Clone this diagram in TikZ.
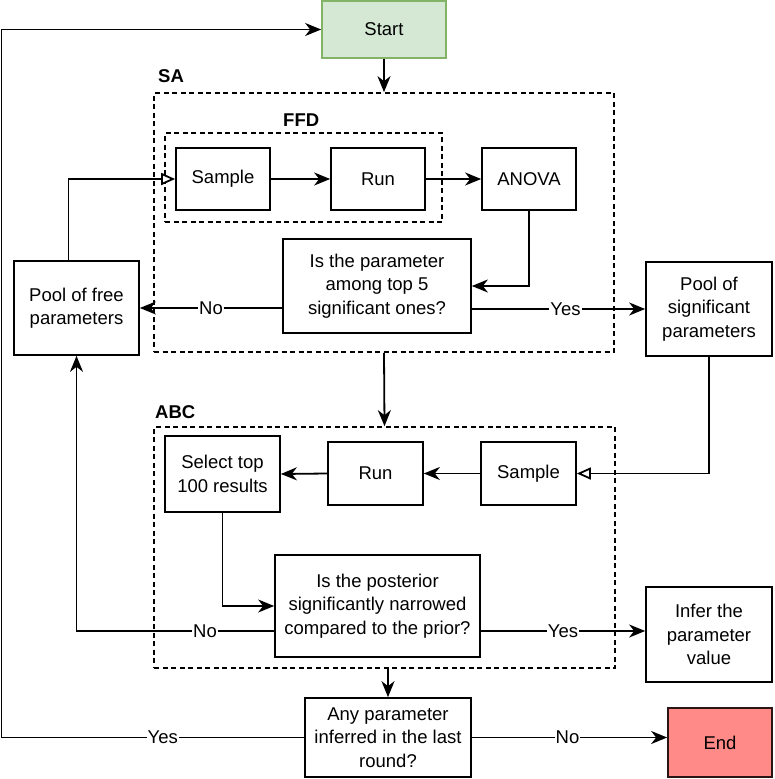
\documentclass[tikz,border=0pt]{standalone}
\usepackage{fontspec}
\setmainfont{Liberation Sans}
\usetikzlibrary{arrows.meta,positioning}
\definecolor{startfill}{HTML}{D5E8D4}
\definecolor{startdraw}{HTML}{82B366}
\definecolor{endfill}{HTML}{FF8A88}
\definecolor{enddraw}{HTML}{2A1515}
\begin{document}
\begin{tikzpicture}[x=1pt,y=-1pt,
  every node/.style={font=\fontsize{18.5}{23.5}\selectfont},
  box/.style={draw=black, line width=1.7pt, align=center, inner sep=2pt},
  dashbox/.style={draw=black, line width=1.7pt, dash pattern=on 5pt off 3.5pt},
  grouplabel/.style={font=\fontsize{18.5}{23.5}\selectfont\bfseries, anchor=west, inner sep=0pt},
  conn/.style={line width=1.8pt, -{Stealth[length=16pt,width=13pt,inset=5pt]}},
  openconn/.style={line width=1.8pt, -{Triangle[open,length=14pt,width=12pt,fill=white]}},
  lbl/.style={fill=white, inner sep=1pt}
]
\useasboundingbox (0,0) rectangle (774,779);

% groups
\node[dashbox, minimum width=460pt, minimum height=259pt] (sa) at (384,222.5) {};
\node[dashbox, minimum width=277pt, minimum height=89pt] (ffd) at (303.5,177.5) {};
\node[dashbox, minimum width=461pt, minimum height=241pt] (abc) at (384.5,547.5) {};
\node[grouplabel] (salbl) at (158,76) {SA};
\node[grouplabel] (ffdlbl) at (283,120) {FFD};
\node[grouplabel] (abclbl) at (155,412) {ABC};

% nodes
\node[box, fill=startfill, draw=startdraw, minimum width=124pt, minimum height=57pt] (start) at (384,29.5) {Start};
\node[box, minimum width=94pt, minimum height=62pt] (sample1) at (223,179) {Sample};
\node[box, minimum width=94pt, minimum height=62pt] (run1) at (378,179) {Run};
\node[box, minimum width=94pt, minimum height=62pt] (anova) at (529,179) {ANOVA};
\node[box, minimum width=188pt, minimum height=94pt] (q1) at (377,286) {Is the parameter\\among top 5\\significant ones?};
\node[box, minimum width=125pt, minimum height=94pt] (poolf) at (76.5,308) {Pool of free\\parameters};
\node[box, minimum width=126pt, minimum height=94pt] (pools) at (709,309) {Pool of\\significant\\parameters};
\node[box, minimum width=115pt, minimum height=76pt] (select) at (222.5,474) {Select top\\100 results};
\node[box, minimum width=95pt, minimum height=63pt] (run2) at (375.5,473.5) {Run};
\node[box, minimum width=95pt, minimum height=63pt] (sample2) at (528.5,473.5) {Sample};
\node[box, minimum width=205pt, minimum height=102pt] (q2) at (377.5,606) {Is the posterior\\significantly narrowed\\compared to the prior?};
\node[box, minimum width=126pt, minimum height=95pt] (infer) at (709,634.5) {Infer the\\parameter\\value};
\node[box, minimum width=166pt, minimum height=79pt] (any) at (388,737.5) {Any parameter\\inferred in the last\\round?};
\node[box, fill=endfill, draw=enddraw, minimum width=104pt, minimum height=69pt] (end) at (720,742.5) {End};

\coordinate (lc) at (1.5,738);

% connectors
\draw[conn] (start.south) -- (start.south |- sa.north);
\draw[conn] (sample1.east) -- (run1.west);
\draw[conn] (run1.east) -- (anova.west);
\draw[conn] (anova.south) |- (q1.east);
\draw[conn] (q1.west |- poolf.east) -- node[lbl, pos=0.5] {No} (poolf.east);
\draw[conn] (q1.east |- pools.west) -- node[lbl, pos=0.54] {Yes} (pools.west);
\draw[openconn] ([xshift=-8pt]poolf.north) |- (sample1.west);
\draw[conn] (sa.south) -- (abc.north);
\draw[openconn] (pools.south) |- (sample2.east);
\draw[conn] (sample2.west) -- (run2.east);
\draw[conn] (run2.west) -- (select.east);
\draw[conn] (select.south) |- (q2.west);
\draw[conn] ([yshift=-25pt]q2.west) -- node[lbl, pos=0.35] {No} ([yshift=-25pt]q2.west -| poolf.south) -- (poolf.south);
\draw[conn] ([yshift=-25pt]q2.east) -- node[lbl, pos=0.5] {Yes} ([yshift=-25pt]q2.east -| infer.west);
\draw[conn] (any.north |- abc.south) -- (any.north);
\draw[conn] (any.east) -- node[lbl, pos=0.49] {No} (any.east -| end.west);
\draw[conn] (any.west) -- node[lbl, pos=0.467] {Yes} (lc |- any.west) |- (start.west);
\end{tikzpicture}
\end{document}
